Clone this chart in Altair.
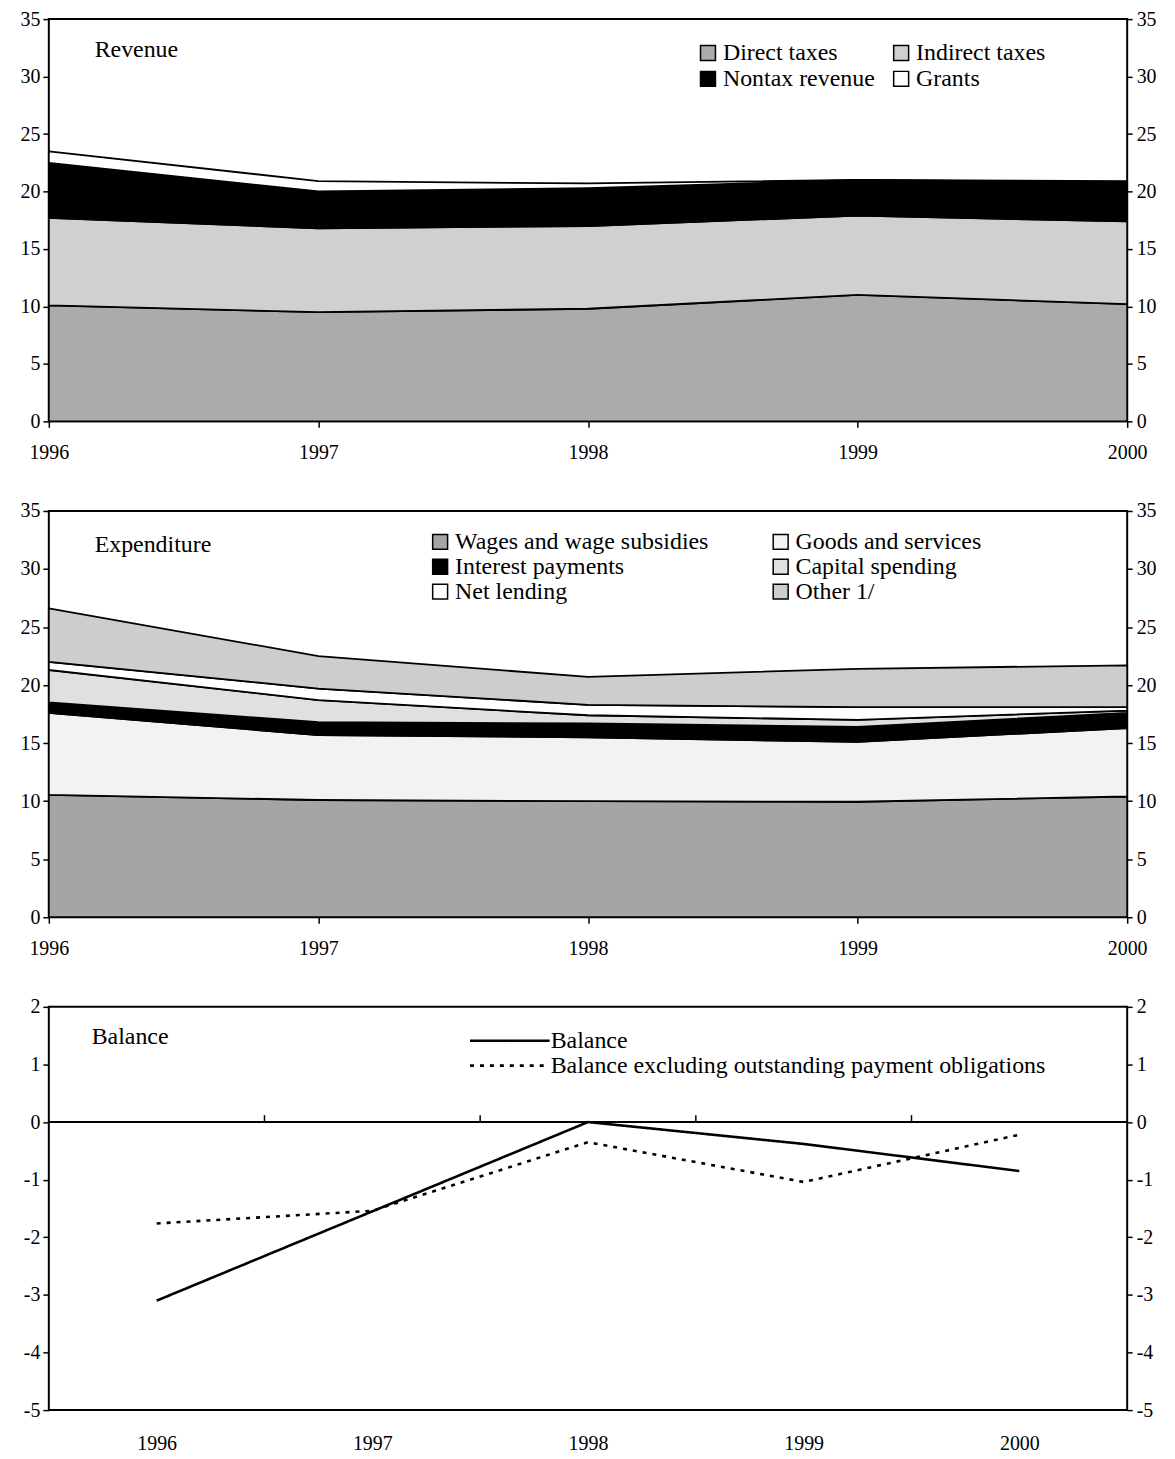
import altair as alt
import pandas as pd

FONT = "Liberation Serif"

years = [1996, 1997, 1998, 1999, 2000]

# Revenue (percent of GDP)
rev_names = ["Direct taxes", "Indirect taxes", "Nontax revenue", "Grants"]
direct_taxes = [10.1, 9.5, 9.8, 11.0, 10.2]
indirect_taxes = [7.6, 7.3, 7.2, 6.9, 7.2]
nontax_revenue = [4.8, 3.2, 3.3, 3.1, 3.4]
grants = [1.0, 0.9, 0.4, 0.0, 0.1]
rev_colors = ["#ababab", "#d0d0d0", "#000000", "#ffffff"]

# Expenditure (percent of GDP)
exp_names = ["Wages and wage subsidies", "Goods and services", "Interest payments",
             "Capital spending", "Net lending", "Other 1/"]
wages = [10.55, 10.1, 10.0, 9.95, 10.4]
goods_services = [7.05, 5.6, 5.5, 5.15, 5.9]
interest = [0.9, 1.1, 1.2, 1.3, 1.3]
capital = [2.8, 1.9, 0.7, 0.6, 0.2]
net_lending = [0.7, 1.0, 0.9, 1.1, 0.3]
other = [4.6, 2.8, 2.4, 3.3, 3.6]
exp_colors = ["#a5a5a5", "#f2f2f2", "#000000", "#e0e0e0", "#ffffff", "#cdcdcd"]

# Balance
bal_names = ["Balance", "Balance excluding outstanding payment obligations"]
balance = [-3.1, -1.55, 0.0, -0.38, -0.85]
balance_excl = [-1.76, -1.54, -0.35, -1.04, -0.22]
band_edges = [1996.5, 1997.5, 1998.5, 1999.5]

W = 1083
LABEL_EXPR = "'' + datum.value"


def stacked_panel(names, series, colors, label, h, lx, ly, colpad, rowpad, ty):
    rows = []
    for i, (n, vals) in enumerate(zip(names, series)):
        for yr, v in zip(years, vals):
            rows.append({"year": yr, "series": n, "value": v, "ord": i})
    df = pd.DataFrame(rows)
    xs = alt.Scale(domain=[1996, 2000], nice=False, zero=False)
    ys = alt.Scale(domain=[0, 35], nice=False)
    leg = dict(orient="none", legendX=lx, legendY=ly, title=None, columns=2,
               direction="horizontal", symbolType="square", symbolSize=225,
               symbolStrokeWidth=1.5, labelFont=FONT, labelFontSize=24, labelOffset=3,
               columnPadding=colpad, rowPadding=rowpad, labelLimit=400)
    area = alt.Chart(df).mark_area(
        interpolate="linear", opacity=1, fillOpacity=1, strokeWidth=1.8
    ).encode(
        x=alt.X("year:Q", scale=xs,
                axis=alt.Axis(values=years, format="d", title=None, grid=False,
                              domain=False, tickSize=6, labelPadding=15, labelFlush=False)),
        y=alt.Y("value:Q", stack="zero", scale=ys,
                axis=alt.Axis(values=list(range(0, 36, 5)), title=None, grid=False,
                              domain=False, tickSize=6, labelPadding=3, orient="left")),
        color=alt.Color("series:N", scale=alt.Scale(domain=names, range=colors),
                        legend=alt.Legend(**leg)),
        stroke=alt.Stroke("series:N", scale=alt.Scale(domain=names, range=["#000000"] * len(names)),
                          legend=alt.Legend(**leg)),
        order=alt.Order("ord:Q", sort="ascending"),
    )
    right = alt.Chart(df).mark_point(opacity=0).encode(
        y=alt.Y("value:Q", scale=ys,
                axis=alt.Axis(values=list(range(0, 36, 5)), title=None, grid=False,
                              domain=False, tickSize=5, labelPadding=4, orient="right")),
    )
    txt = alt.Chart(pd.DataFrame({"t": [label]})).mark_text(
        align="left", baseline="middle", font=FONT, fontSize=24, color="black"
    ).encode(text="t:N", x=alt.value(46), y=alt.value(ty))
    return alt.layer(area, right, txt).resolve_axis(y="independent").properties(width=W, height=h)


rev_chart = stacked_panel(rev_names, [direct_taxes, indirect_taxes, nontax_revenue, grants],
                          rev_colors, "Revenue", 404, 650, 22, 14, 2, 31)
exp_chart = stacked_panel(exp_names, [wages, goods_services, interest, capital, net_lending, other],
                          exp_colors, "Expenditure", 408, 381, 19, 60, 1, 34)

# Balance panel
brows = []
for n, vals in zip(bal_names, [balance, balance_excl]):
    for yr, v in zip(years, vals):
        brows.append({"year": yr, "series": n, "value": v})
bdf = pd.DataFrame(brows)
bxs = alt.Scale(domain=[1995.5, 2000.5], nice=False, zero=False)
bys = alt.Scale(domain=[-5, 2], nice=False)
bx_axis = alt.Axis(values=years, format="d", title=None, grid=False, domain=False,
                   ticks=False, labelPadding=24, labelFlush=False)
bal_lines = alt.Chart(bdf).mark_line(color="black", strokeWidth=2.6).encode(
    x=alt.X("year:Q", scale=bxs, axis=bx_axis),
    y=alt.Y("value:Q", scale=bys,
            axis=alt.Axis(values=list(range(-5, 3)), title=None, grid=False, domain=False,
                          tickSize=6, labelPadding=3, orient="left", labelExpr=LABEL_EXPR)),
    strokeDash=alt.StrokeDash("series:N",
                              scale=alt.Scale(domain=bal_names, range=[[1, 0], [4, 6]]),
                              legend=alt.Legend(orient="none", legendX=419, legendY=22, title=None,
                                                symbolType="M-1,0H9", symbolSize=256,
                                                symbolStrokeWidth=2.6, symbolStrokeColor="black",
                                                labelFont=FONT, labelFontSize=24, labelOffset=61,
                                                rowPadding=1, labelLimit=700)),
)
zero_line = alt.Chart(pd.DataFrame({"y": [0]})).mark_rule(color="black", strokeWidth=2).encode(
    y=alt.Y("y:Q", scale=bys, axis=None))
tick_df = pd.DataFrame({"x": band_edges, "y0": [0] * 4, "y1": [0.12] * 4})
up_ticks = alt.Chart(tick_df).mark_rule(color="black", strokeWidth=1.5).encode(
    x=alt.X("x:Q", scale=bxs, axis=bx_axis), y=alt.Y("y0:Q", scale=bys, axis=None), y2="y1:Q")
bal_right = alt.Chart(bdf).mark_point(opacity=0).encode(
    y=alt.Y("value:Q", scale=bys,
            axis=alt.Axis(values=list(range(-5, 3)), title=None, grid=False, domain=False,
                          tickSize=5, labelPadding=4, orient="right", labelExpr=LABEL_EXPR)),
)
bal_txt = alt.Chart(pd.DataFrame({"t": ["Balance"]})).mark_text(
    align="left", baseline="middle", font=FONT, fontSize=24, color="black"
).encode(text="t:N", x=alt.value(43), y=alt.value(30))
bal_chart = alt.layer(zero_line, up_ticks, bal_lines, bal_right, bal_txt).resolve_axis(
    y="independent").properties(width=W, height=405)

chart = alt.vconcat(rev_chart, exp_chart, bal_chart, spacing=90).resolve_scale(
    color="independent", stroke="independent", strokeDash="independent",
    x="independent", y="independent"
).resolve_legend(color="independent", stroke="independent", strokeDash="independent").properties(
    bounds="flush",
    padding={"left": 11, "top": -3, "right": 10, "bottom": 10},
).configure_view(stroke="black", strokeWidth=2).configure_axis(
    labelFont=FONT, labelFontSize=20, labelColor="black", tickColor="black", tickWidth=1.5
).configure_legend(labelColor="black")

chart.save("out.html", embed_options={"renderer": "svg", "actions": False})
